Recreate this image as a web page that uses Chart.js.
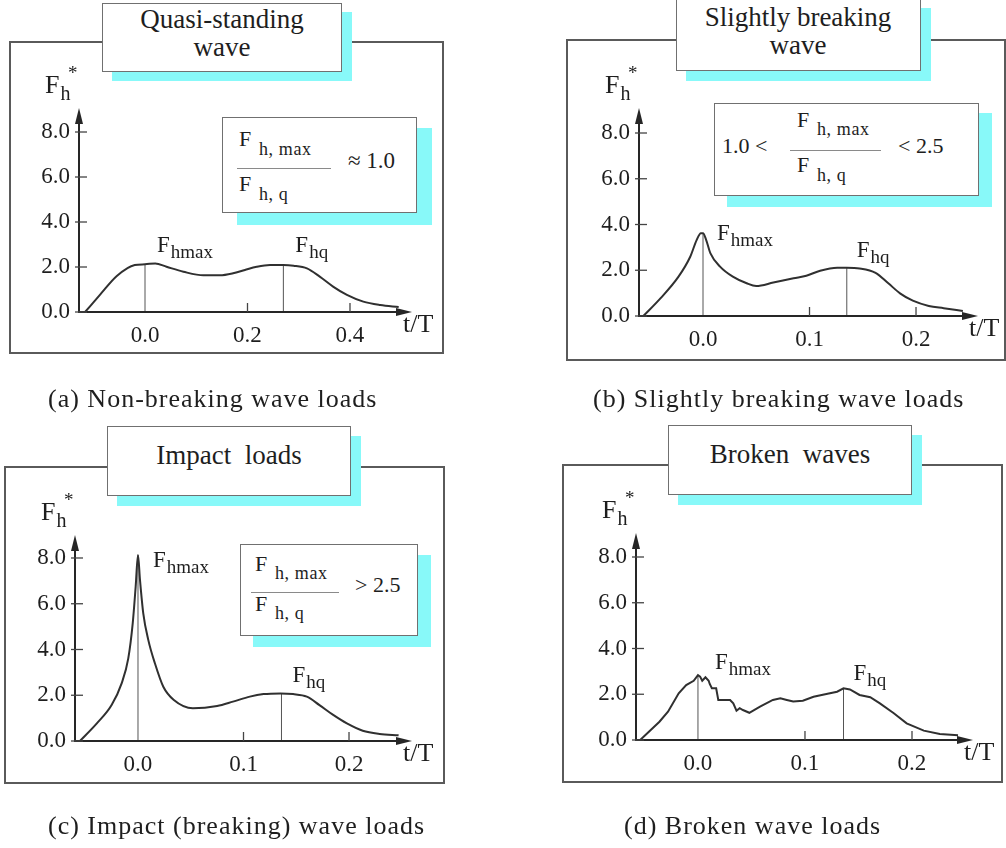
<!DOCTYPE html>
<html><head><meta charset="utf-8">
<script src="https://cdn.jsdelivr.net/npm/chart.js@4.4.1/dist/chart.umd.min.js"></script>
<style>
html,body{margin:0;padding:0;background:#fff;}
body{width:1006px;height:848px;position:relative;overflow:hidden;font-family:'Liberation Serif',serif;color:#1e1e1e;}
.frame{position:absolute;border:2px solid #5a5a5a;box-sizing:border-box;}
canvas{position:absolute;}
.shadow{position:absolute;background:#88f9f9;}
.box{position:absolute;background:#fff;border:1.5px solid #707070;box-sizing:border-box;}
.t{position:absolute;white-space:nowrap;font-family:'Liberation Serif',serif;}
.ln{position:absolute;height:1px;background:#8a8a8a;}
</style></head>
<body>
<script>
// ---------- data ----------
const yTicks = [0, 2, 4, 6, 8];
const xTicksA = [0, 0.2, 0.4];
const xTicksB = [0, 0.1, 0.2];
const xTicksC = [0, 0.1, 0.2];
const xTicksD = [0, 0.1, 0.2];

// (a) Non-breaking (quasi-standing wave)
const tA = [-0.117, -0.088, -0.055, -0.020, 0.000, 0.020, 0.042, 0.075, 0.114, 0.146, 0.172, 0.195, 0.218, 0.244, 0.270, 0.290, 0.316, 0.341, 0.367, 0.394, 0.426, 0.459, 0.495];
const fA = [0, 0.76, 1.60, 2.09, 2.12, 2.16, 2.01, 1.79, 1.63, 1.63, 1.72, 1.87, 2.01, 2.09, 2.09, 2.06, 1.94, 1.57, 1.13, 0.76, 0.46, 0.31, 0.22];
const markTA = [0.0, 0.270];
const markFA = [2.12, 2.09];

// (b) Slightly breaking
const tB = [-0.056, -0.040, -0.023, -0.012, -0.006, -0.002, 0.000, 0.003, 0.007, 0.016, 0.028, 0.041, 0.050, 0.066, 0.085, 0.097, 0.110, 0.126, 0.135, 0.147, 0.162, 0.174, 0.185, 0.197, 0.212, 0.226, 0.244];
const fB = [0, 0.77, 1.72, 2.59, 3.32, 3.62, 3.62, 3.32, 2.74, 2.16, 1.72, 1.43, 1.31, 1.46, 1.65, 1.76, 1.98, 2.11, 2.11, 2.08, 1.89, 1.43, 0.99, 0.67, 0.44, 0.34, 0.22];
const markTB = [0.0, 0.135];
const markFB = [3.62, 2.11];

// (c) Impact loads
const tC = [-0.055, -0.039, -0.025, -0.0155, -0.0092, -0.005, -0.0022, 0.000, 0.0019, 0.005, 0.0098, 0.016, 0.024, 0.034, 0.052, 0.075, 0.090, 0.106, 0.119, 0.135, 0.147, 0.160, 0.172, 0.185, 0.198, 0.213, 0.229, 0.247];
const fC = [0, 0.77, 1.57, 2.52, 3.61, 5.14, 6.75, 8.13, 7.04, 5.58, 4.41, 3.40, 2.37, 1.79, 1.43, 1.53, 1.72, 1.94, 2.05, 2.08, 2.05, 1.94, 1.57, 1.14, 0.77, 0.45, 0.31, 0.25];
const markTC = [0.0, 0.136];
const markFC = [8.13, 2.08];

// (d) Broken waves
const tD = [-0.054, -0.036, -0.028, -0.018, -0.011, -0.004, 0.000, 0.002, 0.004, 0.007, 0.010, 0.011, 0.013, 0.017, 0.019, 0.030, 0.033, 0.036, 0.039, 0.042, 0.048, 0.058, 0.070, 0.077, 0.083, 0.089, 0.098, 0.108, 0.120, 0.130, 0.136, 0.142, 0.151, 0.161, 0.170, 0.183, 0.195, 0.211, 0.226, 0.243];
const fD = [0, 0.80, 1.24, 2.04, 2.40, 2.59, 2.84, 2.77, 2.59, 2.74, 2.59, 2.45, 2.26, 2.26, 1.75, 1.75, 1.60, 1.28, 1.39, 1.31, 1.19, 1.46, 1.75, 1.82, 1.75, 1.68, 1.72, 1.89, 2.01, 2.11, 2.26, 2.21, 1.97, 1.87, 1.60, 1.17, 0.73, 0.41, 0.26, 0.21];
const markTD = [0.0, 0.136];
const markFD = [2.84, 2.26];

// ---------- helpers ----------
const FONT = "'Liberation Serif', serif";
function add(cls, x, y, w, h) {
  const d = document.createElement('div'); d.className = cls;
  Object.assign(d.style, {left: x + 'px', top: y + 'px', width: w + 'px', height: h + 'px'});
  document.body.appendChild(d); return d;
}
function txt(x, base, s, fs, extra) {
  const d = document.createElement('div'); d.className = 't';
  d.style.left = x + 'px'; d.style.top = (base - 0.86 * fs) + 'px';
  d.style.fontSize = fs + 'px'; d.style.lineHeight = fs + 'px';
  d.textContent = s; if (extra) Object.assign(d.style, extra);
  document.body.appendChild(d); return d;
}
function txtC(cx, base, s, fs, extra) {
  const d = txt(cx - 250, base, s, fs, extra);
  d.style.width = '500px'; d.style.textAlign = 'center'; return d;
}

// frames
add('frame', 9, 41, 435, 313);
add('frame', 566, 39, 440, 322);
add('frame', 4, 466, 441, 318);
add('frame', 562, 464, 441, 319);

// ---------- charts ----------
function makeChart(p) {
  const cv = document.createElement('canvas');
  cv.width = 503; cv.height = 424;
  cv.style.left = p.cx + 'px'; cv.style.top = p.cy + 'px';
  cv.style.width = '503px'; cv.style.height = '424px';
  document.body.appendChild(cv);

  const deco = {
    id: 'deco',
    afterDatasetsDraw(chart) {
      const c = chart.ctx, xs = chart.scales.x, ys = chart.scales.y, a = chart.chartArea;
      const L = a.left, B = a.bottom, T = a.top, R = a.right;
      c.save();
      c.strokeStyle = '#262626'; c.fillStyle = '#262626'; c.lineWidth = 2;
      c.beginPath(); c.moveTo(L, B + 1); c.lineTo(L, T + 12);
      c.moveTo(L - 1, B); c.lineTo(R - 12, B); c.stroke();
      c.beginPath(); c.moveTo(L, T); c.lineTo(L - 4, T + 16); c.lineTo(L + 4, T + 16); c.closePath(); c.fill();
      c.beginPath(); c.moveTo(R, B); c.lineTo(R - 16, B - 4); c.lineTo(R - 16, B + 4); c.closePath(); c.fill();
      c.lineWidth = 1.3; c.strokeStyle = '#444';
      yTicks.forEach(v => { const y = ys.getPixelForValue(v); c.beginPath(); c.moveTo(L - 4, y); c.lineTo(L + 8, y); c.stroke(); });
      p.ticksX.forEach(v => { if (v === 0) return; const x = xs.getPixelForValue(v); c.beginPath(); c.moveTo(x, B); c.lineTo(x, B - 9); c.stroke(); });

      c.fillStyle = '#1e1e1e'; c.textAlign = 'left'; c.textBaseline = 'alphabetic';
      function fsub(x, y, main, s, f1, f2, dy) {
        c.font = f1 + 'px ' + FONT; c.fillText(main, x, y);
        const w = c.measureText(main).width;
        c.font = f2 + 'px ' + FONT; c.fillText(s, x + w + 1, y + dy);
      }
      const names = ['hmax', 'hq'];
      p.markT.forEach((t, i) => {
        const x = xs.getPixelForValue(t), y = ys.getPixelForValue(p.markF[i]);
        fsub(x + p.off[i][0], y + p.off[i][1], 'F', names[i], 23, 19, 6);
      });
      fsub(L - 34, T - 15, 'F', 'h', 26, 20, 7);
      c.font = '19px ' + FONT; c.fillText('*', L - 11, T - 29);
      c.font = '26px ' + FONT; c.fillText('t/T', R - 9, B + 20);
      c.restore();
    }
  };

  const tickFont = {family: FONT, size: 23};
  return new Chart(cv, {
    type: 'line',
    data: {
      datasets: [
        {data: p.t.map((t, i) => ({x: t, y: p.f[i]})), borderColor: '#303030', borderWidth: 2, pointRadius: 0,
         tension: 0, cubicInterpolationMode: p.smooth ? 'monotone' : 'default'},
        {data: [{x: p.markT[0], y: 0}, {x: p.markT[0], y: p.markF[0]}], borderColor: '#555', borderWidth: 1, pointRadius: 0},
        {data: [{x: p.markT[1], y: 0}, {x: p.markT[1], y: p.markF[1]}], borderColor: '#555', borderWidth: 1, pointRadius: 0}
      ]
    },
    options: {
      responsive: false, animation: false, devicePixelRatio: 1,
      layout: {autoPadding: false, padding: p.pad},
      plugins: {legend: {display: false}, tooltip: {enabled: false}},
      scales: {
        x: {
          type: 'linear', min: p.xmin, max: p.xmax,
          grid: {display: false, drawTicks: false}, border: {display: false},
          afterBuildTicks(s) { s.ticks = p.ticksX.map(v => ({value: v})); },
          afterFit(s) { s.height = 40; },
          ticks: {padding: 10, color: '#1e1e1e', font: tickFont, maxRotation: 0, autoSkip: false,
                  callback: v => Number(v).toFixed(1)}
        },
        y: {
          type: 'linear', min: 0, max: p.ymax,
          grid: {display: false, drawTicks: false}, border: {display: false},
          afterBuildTicks(s) { s.ticks = yTicks.map(v => ({value: v})); },
          afterFit(s) { s.width = 60; },
          ticks: {padding: 9, color: '#1e1e1e', font: tickFont, autoSkip: false,
                  callback: v => Number(v).toFixed(1)}
        }
      }
    },
    plugins: [deco]
  });
}

makeChart({cx: 0, cy: 0, t: tA, f: fA, markT: markTA, markF: markFA, ticksX: xTicksA, smooth: true,
  xmin: -0.1288, xmax: 0.521, ymax: 9.067, pad: {left: 19, right: 91, top: 108, bottom: 72},
  off: [[12, -12], [12, -13]]});
makeChart({cx: 503, cy: 0, t: tB, f: fB, markT: markTB, markF: markFB, ticksX: xTicksB, smooth: true,
  xmin: -0.0601, xmax: 0.2582, ymax: 9.093, pad: {left: 76, right: 28, top: 108, bottom: 68},
  off: [[14, 7], [10, -11]]});
makeChart({cx: 0, cy: 424, t: tC, f: fC, markT: markTC, markF: markFC, ticksX: xTicksC, smooth: true,
  xmin: -0.0597, xmax: 0.2597, ymax: 9.005, pad: {left: 15, right: 91, top: 111, bottom: 67},
  off: [[15, 12], [11, -11]]});
makeChart({cx: 503, cy: 424, t: tD, f: fD, markT: markTD, markF: markFD, ticksX: xTicksD, smooth: false,
  xmin: -0.0579, xmax: 0.2570, ymax: 9.049, pad: {left: 73, right: 33, top: 109, bottom: 68},
  off: [[17, -6], [10, -8]]});

// ---------- title boxes ----------
function titleBox(x, y, w, h, sx, sy) {
  add('shadow', x + sx, y + sy, w, h);
  add('box', x, y, w, h);
}
titleBox(102, 3, 240, 69, 10, 9);
txtC(222, 29, 'Quasi-standing', 27);
txtC(222, 57, 'wave', 27);

titleBox(676, -2, 245, 73, 10, 10);
txtC(798, 27, 'Slightly breaking', 27);
txtC(798, 55, 'wave', 27);

titleBox(107, 426, 244, 70, 10, 10);
txtC(229, 465, 'Impact\u00a0 loads', 27);

titleBox(668, 425, 244, 70, 10, 10);
txtC(790, 464, 'Broken\u00a0 waves', 27);

// ---------- ratio boxes ----------
function fracF(x, top, subBase, sub) {
  txt(x, top, 'F', 22);
  txt(x + 20, subBase, sub, 18, {letterSpacing: '0.6px'});
}
// (a)
add('shadow', 237, 128, 195, 97); add('box', 222, 117, 195, 96);
fracF(239, 147, 155, 'h, max');
add('ln', 237, 168, 94, 1);
fracF(239, 192, 200, 'h, q');
txt(348, 169, '\u2248 1.0', 23);
// (b)
add('shadow', 727, 113, 265, 94); add('box', 714, 103, 265, 93);
txt(722, 154, '1.0 <', 22);
fracF(797, 128, 135, 'h, max');
add('ln', 790, 150, 91, 1);
fracF(797, 173, 181, 'h, q');
txt(898, 154, '< 2.5', 22);
// (c)
add('shadow', 253, 555, 178, 92); add('box', 240, 544, 178, 92);
fracF(255, 572, 579, 'h, max');
add('ln', 251, 592, 88, 1);
fracF(255, 612, 619, 'h, q');
txt(355, 593, '> 2.5', 22);

// ---------- captions ----------
const capStyle = {letterSpacing: '1px'};
txt(48, 408, '(a) Non-breaking wave loads', 26, capStyle);
txt(593, 408, '(b) Slightly breaking wave loads', 26, capStyle);
txt(48, 835, '(c) Impact (breaking) wave loads', 26, capStyle);
txt(624, 835, '(d) Broken wave loads', 26, capStyle);
</script>
</body></html>
